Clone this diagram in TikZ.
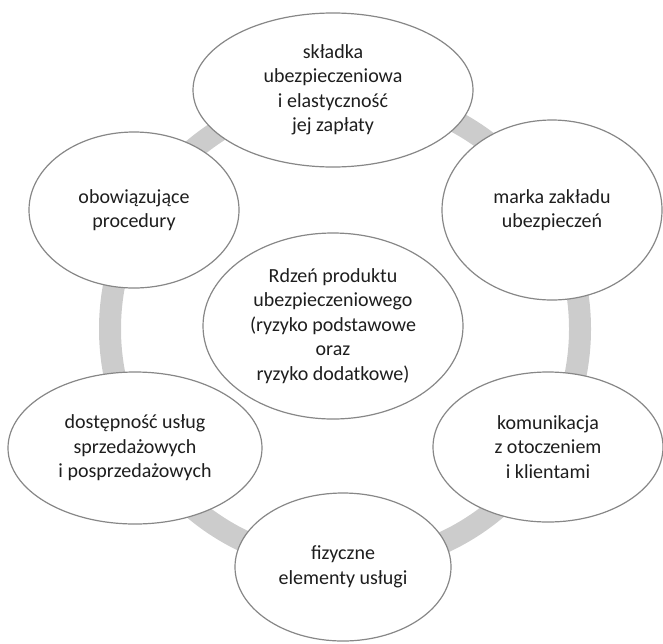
\documentclass[tikz,border=0pt]{standalone}
\usepackage{fontspec}
\setmainfont{Carlito}
\usetikzlibrary{shapes.geometric}
\definecolor{ringgray}{RGB}{204,204,204}
\definecolor{edgegray}{RGB}{135,135,135}
\definecolor{textgray}{RGB}{30,30,30}
\tikzstyle{factor} = [ellipse, draw=edgegray, line width=1.2pt, fill=white, text=textgray, align=center, inner sep=0pt, font=\fontsize{20}{24.5}\selectfont]
\tikzstyle{ring} = [draw=ringgray, line width=22pt]

\begin{document}
\begin{tikzpicture}[x=1pt,y=-1pt]
\useasboundingbox (0,0) rectangle (663,643);

\coordinate (mid) at (345,329);
\draw [ring] (mid) circle (235);

\node (premium) [factor, minimum width=280pt, minimum height=154pt] at (333,90) {składka\\ubezpieczeniowa\\i elastyczność\\jej zapłaty};
\node (brand) [factor, minimum width=220pt, minimum height=180pt] at (552,210) {marka zakładu\\ubezpieczeń};
\node (procedures) [factor, minimum width=210pt, minimum height=156pt] at (134,210) {obowiązujące\\procedury};
\node (core) [factor, minimum width=260pt, minimum height=186pt] at (333,326) {Rdzeń produktu\\ubezpieczeniowego\\(ryzyko podstawowe\\oraz\\ryzyko dodatkowe)};
\node (access) [factor, minimum width=254pt, minimum height=152pt] at (135,448) {dostępność usług\\sprzedażowych\\i posprzedażowych};
\node (comm) [factor, minimum width=230pt, minimum height=150pt] at (548,447) {komunikacja\\z otoczeniem\\i klientami};
\node (physical) [factor, minimum width=216pt, minimum height=148pt] at (343,567) {fizyczne\\elementy usługi};

\end{tikzpicture}
\end{document}
